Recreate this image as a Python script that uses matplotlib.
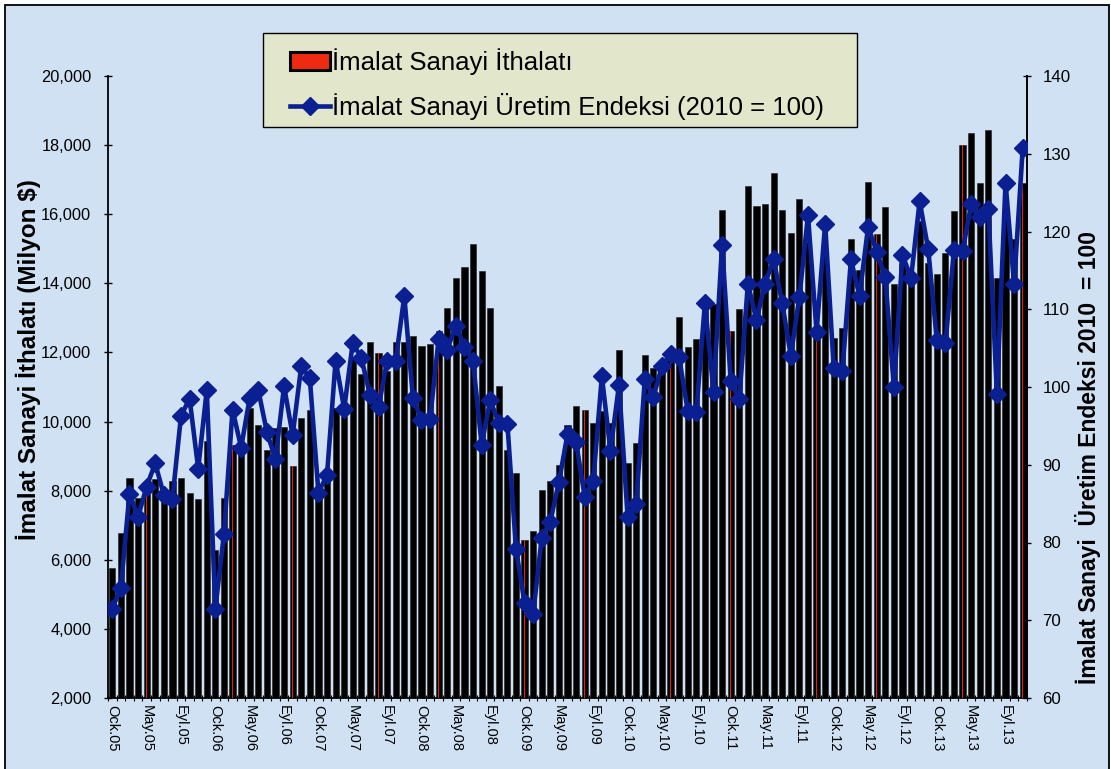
import matplotlib
matplotlib.use('Agg')
import matplotlib.pyplot as plt
from matplotlib.patches import Patch, Rectangle
from matplotlib.lines import Line2D
import numpy as np

plt.rcParams['font.family'] = ['Liberation Sans', 'DejaVu Sans']

# Monthly data Jan 2005 (Ock.05) .. Nov 2013
imports = [5750, 6780, 8370, 7800, 8000, 8330, 7950, 8290, 8380, 7930, 7750, 9440,
           6290, 7800, 9310, 9050, 10390, 9890, 9180, 9800, 9840, 8700, 10110, 10340,
           7900, 8470, 10390, 10160, 11800, 11380, 12290, 11980, 11450, 12290, 12300, 12480,
           12200, 12250, 12620, 13290, 14140, 14480, 15130, 14360, 13290, 11040, 9170, 8500,
           6580, 6840, 8010, 8270, 8730, 9900, 10450, 10340, 9960, 10300, 9960, 12060,
           8800, 9380, 11920, 11560, 11650, 11900, 13040, 12150, 12380, 13300, 13390, 16110,
           12630, 13260, 16820, 16240, 16300, 17200, 16110, 15460, 16440, 15200, 12700, 15000,
           12420, 12720, 15280, 14390, 16920, 15420, 16210, 13980, 14600, 14300, 15800, 14600,
           14270, 14890, 16080, 18010, 18350, 16890, 18440, 14150, 16000, 15290, 16890]

production = [71.5, 74.2, 86.3, 83.3, 87.2, 90.2, 86.1, 85.6, 96.3, 98.5, 89.5, 99.6,
              71.5, 81.1, 97.1, 92.2, 98.6, 99.6, 94.2, 90.7, 100.1, 93.8, 102.7, 101.1,
              86.4, 88.7, 103.4, 97.2, 105.7, 103.7, 99.0, 97.4, 103.4, 103.4, 111.7, 98.6,
              95.8, 95.9, 106.2, 104.8, 107.9, 105.2, 103.3, 92.6, 98.3, 95.4, 95.3, 79.2,
              72.2, 70.8, 80.6, 82.7, 87.8, 93.9, 92.9, 85.9, 87.9, 101.4, 91.8, 100.3,
              83.3, 85.0, 101.0, 98.7, 102.7, 104.3, 103.8, 96.9, 96.8, 110.8, 99.4, 118.3,
              100.8, 98.4, 113.3, 108.6, 113.3, 116.4, 110.8, 104.0, 111.6, 122.1, 107.1, 121.0,
              102.4, 102.0, 116.4, 111.7, 120.6, 117.4, 114.1, 100.0, 117.0, 114.0, 123.9, 117.7,
              106.0, 105.6, 117.6, 117.5, 123.5, 121.9, 122.9, 99.1, 126.3, 113.2, 130.7]

tick_labels = ['Ock.05', 'May.05', 'Eyl.05', 'Ock.06', 'May.06', 'Eyl.06',
               'Ock.07', 'May.07', 'Eyl.07', 'Ock.08', 'May.08', 'Eyl.08',
               'Ock.09', 'May.09', 'Eyl.09', 'Ock.10', 'May.10', 'Eyl.10',
               'Ock.11', 'May.11', 'Eyl.11', 'Ock.12', 'May.12', 'Eyl.12',
               'Ock.13', 'May.13', 'Eyl.13']

red_idx = [4, 14, 21, 31, 38, 48, 55, 65, 72, 82, 89, 99, 106]

label_bar = 'İmalat Sanayi İthalatı'
label_line = 'İmalat Sanayi Üretim Endeksi (2010 = 100)'
ylabel_left = 'İmalat Sanayi İthalatı (Milyon $)'
ylabel_right = 'İmalat Sanayi  Üretim Endeksi 2010  = 100'

BG = '#CFE1F3'
LINE_C = '#0A1F91'

W, H = 1111, 769
fig = plt.figure(figsize=(W / 100, H / 100), dpi=100, facecolor='white')
fig.add_artist(Rectangle((4.5 / W, -0.01), 1104 / W, (H - 4.5) / H + 0.01,
                         transform=fig.transFigure, facecolor=BG, edgecolor='black',
                         linewidth=1.3, zorder=0))

ax = fig.add_axes([108 / W, 1 - 698 / H, (1027 - 108) / W, (698 - 76) / H])
ax.set_facecolor('none')

n = len(imports)
x = np.arange(n)
ax.bar(x, imports, width=0.72, color='black', edgecolor='#202020', linewidth=0.4, zorder=2)
ax.bar(x[red_idx], [imports[i] for i in red_idx], width=0.1, color='#E8200A',
       linewidth=0, zorder=3)

ax.set_xlim(-0.5, n - 0.5)
ax.set_ylim(2000, 20000)
ax.set_yticks(np.arange(2000, 20001, 2000))
ax.set_yticklabels([f'{v:,}' for v in range(2000, 20001, 2000)], fontsize=11.8)
ax.set_xticks(np.arange(0, n, 4))
ax.set_xticklabels(tick_labels, rotation=270, fontsize=10.5, va='top', ha='center')
ax.set_xticks(np.arange(-0.5, n, 1), minor=True)
ax.tick_params(axis='x', which='major', length=0, pad=5)
ax.tick_params(axis='x', which='minor', length=5, direction='inout', width=0.8)
ax.tick_params(axis='y', which='major', length=6, direction='inout', width=1, pad=9)
ax.spines['top'].set_visible(False)
for s in ['left', 'bottom', 'right']:
    ax.spines[s].set_linewidth(1.3)
ax.set_ylabel(ylabel_left, fontsize=17.5, fontweight='bold')
ax.yaxis.set_label_coords((41 - 108) / 919, (698 - 360) / 622)

ax2 = ax.twinx()
ax2.plot(x, production, color=LINE_C, linewidth=3.3, marker='D', markersize=9.5,
         markerfacecolor=LINE_C, markeredgecolor=LINE_C, zorder=5)
ax2.set_ylim(60, 140)
ax2.set_yticks(np.arange(60, 141, 10))
ax2.tick_params(axis='y', labelsize=12.2, length=6, direction='inout', width=1, pad=8)
for s in ['top', 'left', 'bottom']:
    ax2.spines[s].set_visible(False)
ax2.spines['right'].set_linewidth(1.3)
ax2.set_ylabel(ylabel_right, fontsize=16.5, fontweight='bold', rotation=90)
ax2.yaxis.set_label_coords((1075 - 108) / 919, (698 - 457) / 622)

# legend box
fig.add_artist(Rectangle((263 / W, 1 - 127 / H), (857 - 263) / W, (127 - 33) / H,
                         transform=fig.transFigure, facecolor='#E2E7CB',
                         edgecolor='black', linewidth=1.0, zorder=9))
handles = [Patch(facecolor='#F02A10', edgecolor='black', linewidth=2.2),
           Line2D([0], [0], color=LINE_C, linewidth=3.3, marker='D', markersize=9.5)]
leg = fig.legend(handles, [label_bar, label_line], loc='upper left',
                 bbox_to_anchor=(290 / W, 1 - 48 / H),
                 fontsize=18.5, frameon=False,
                 handlelength=1.55, handletextpad=0.08, borderpad=0,
                 labelspacing=0.72, borderaxespad=0)
leg.set_zorder(10)

fig.savefig('out.png', dpi=100, facecolor=fig.get_facecolor())
